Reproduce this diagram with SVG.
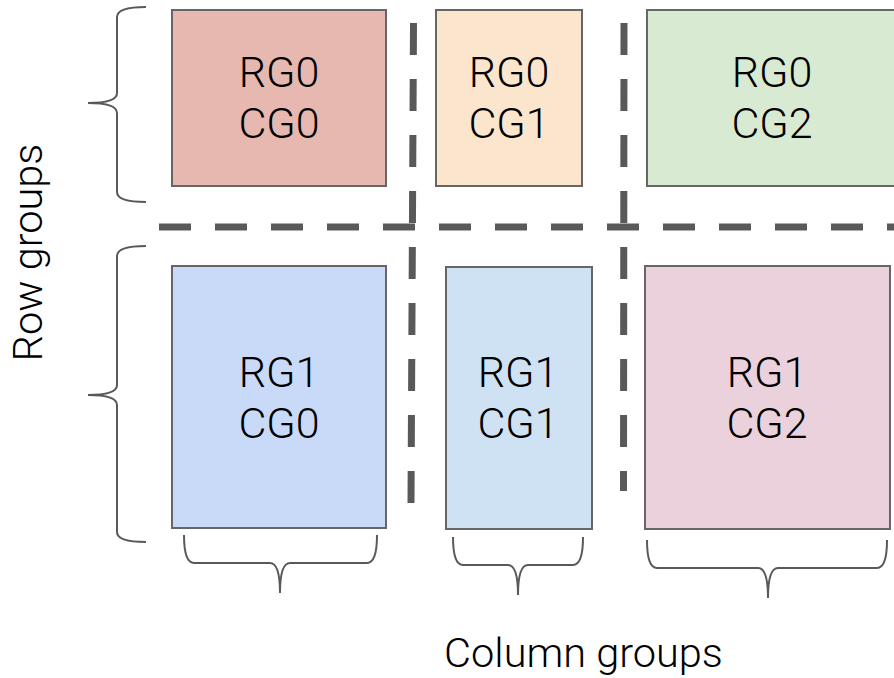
<svg xmlns="http://www.w3.org/2000/svg" width="894" height="678" viewBox="0 0 894 678">
<style>
.box{stroke:#666666;stroke-width:2}
.lbl{font-family:Roboto,"Liberation Sans",sans-serif;font-weight:300;font-size:43px;fill:#000;text-anchor:middle}
.dash{fill:none;stroke:#595959;stroke-width:7;stroke-dasharray:32 24}
.brace{fill:none;stroke:#595959;stroke-width:2}
.axis{font-family:Roboto,"Liberation Sans",sans-serif;font-weight:300;font-size:41.5px;fill:#000;text-anchor:middle}
</style>
<rect width="894" height="678" fill="#ffffff"/>
<g id="connectors">
<line class="dash" x1="159" y1="227" x2="894" y2="227"/>
<line class="dash" x1="413.5" y1="23" x2="411" y2="503"/>
<line class="dash" x1="624" y1="23" x2="623.5" y2="491"/>
</g>
<g id="rg0cg0"><rect class="box" x="172" y="10" width="214" height="176" fill="#e6b8af"/><text class="lbl" x="279" y="87">RG0</text><text class="lbl" x="279" y="138">CG0</text></g>
<g id="rg0cg1"><rect class="box" x="436" y="10" width="146" height="176" fill="#fce5cd"/><text class="lbl" x="509" y="87">RG0</text><text class="lbl" x="509" y="138">CG1</text></g>
<g id="rg0cg2"><rect class="box" x="647" y="10" width="252" height="176" fill="#d9ead3"/><text class="lbl" x="772" y="87">RG0</text><text class="lbl" x="772" y="138">CG2</text></g>
<g id="rg1cg0"><rect class="box" x="172" y="266" width="214" height="262" fill="#c9daf8"/><text class="lbl" x="279" y="387">RG1</text><text class="lbl" x="279" y="438">CG0</text></g>
<g id="rg1cg1"><rect class="box" x="446" y="267" width="146" height="262" fill="#cfe2f3"/><text class="lbl" x="518" y="387">RG1</text><text class="lbl" x="518" y="438">CG1</text></g>
<g id="rg1cg2"><rect class="box" x="645" y="266" width="245" height="263" fill="#ead1dc"/><text class="lbl" x="767" y="387">RG1</text><text class="lbl" x="767" y="438">CG2</text></g>
<g id="braces">
<path class="brace" d="M146,7 Q117,7 117,17 L117,93 Q117,103 88,103 Q117,103 117,113 L117,192 Q117,202 146,202"/>
<path class="brace" d="M146,246 Q117,246 117,256 L117,385 Q117,395 88,395 Q117,395 117,405 L117,532 Q117,542 146,542"/>
<path class="brace" d="M184,535 Q184,563 194,563 L270,563 Q280,563 280,593 Q280,563 290,563 L367,563 Q377,563 377,535"/>
<path class="brace" d="M453,537 Q453,565 463,565 L508,565 Q518,565 518,595 Q518,565 528,565 L573,565 Q583,565 583,537"/>
<path class="brace" d="M647,540 Q647,568 657,568 L758,568 Q768,568 768,598 Q768,568 778,568 L877,568 Q887,568 887,540"/>
</g>
<g id="axis-labels">
<text class="axis" transform="translate(42,252.5) rotate(-90)">Row groups</text>
<text class="axis" x="583.5" y="667">Column groups</text>
</g>
</svg>
